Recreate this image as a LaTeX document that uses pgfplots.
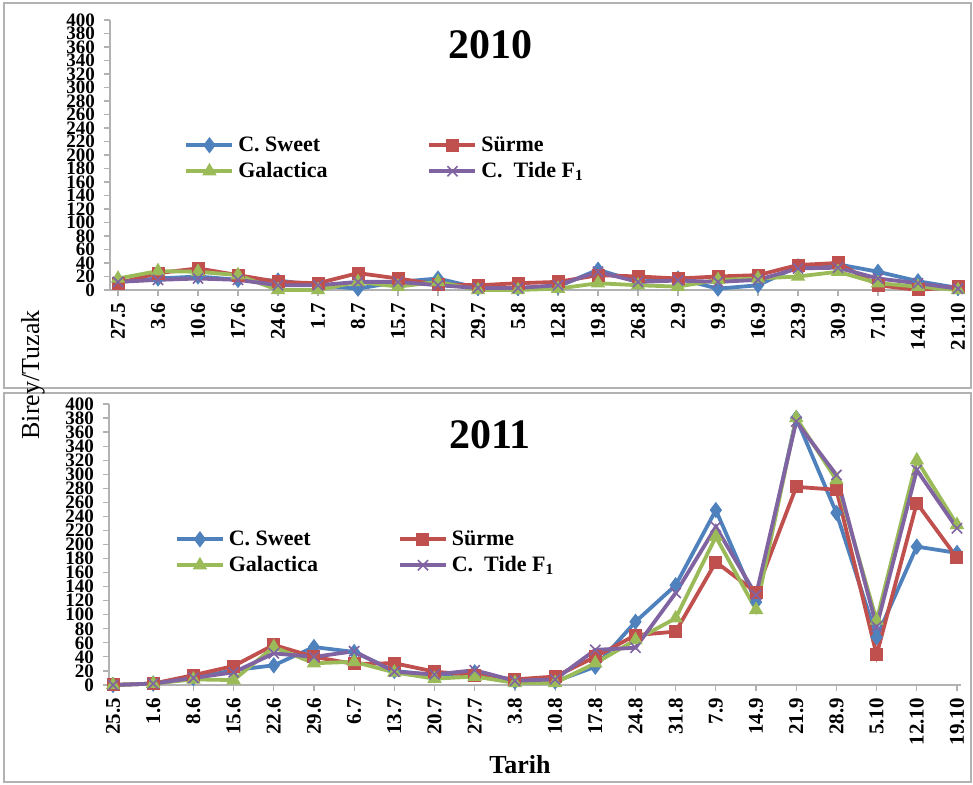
\documentclass[border=0pt]{standalone}
\usepackage{pgfplots}
\pgfplotsset{compat=1.18}
\usepackage{fontspec}
\setmainfont{Liberation Serif}
\definecolor{cblue}{HTML}{4F81BD}
\definecolor{cred}{HTML}{C0504D}
\definecolor{cgreen}{HTML}{9BBB59}
\definecolor{cpurple}{HTML}{8064A2}

\pgfplotstableread{
x sweet surme gal tide
0 12 10 17 12
1 17 25 28 15
2 20 32 27 17
3 15 22 22 15
4 14 12 0 7
5 7 10 0 7
6 2 25 12 12
7 12 17 5 12
8 17 8 12 7
9 3 7 0 3
10 3 10 0 3
11 5 12 2 7
12 30 22 10 27
13 12 20 7 12
14 17 17 5 14
15 2 20 15 12
16 7 22 17 15
17 35 37 20 32
18 38 40 27 33
19 27 7 10 17
20 13 0 5 10
21 3 5 0 2
}\dataA

\pgfplotstableread{
x sweet surme gal tide
0 0 0 0 0
1 2 2 2 2
2 10 14 8 10
3 21 27 7 18
4 28 57 54 45
5 54 40 31 40
6 47 30 33 48
7 20 31 18 19
8 14 19 9 15
9 18 14 12 21
10 5 8 3 6
11 5 12 3 8
12 26 40 31 50
13 90 71 64 53
14 142 76 95 131
15 249 175 211 225
16 118 132 107 128
17 380 282 380 375
18 245 278 292 299
19 68 43 92 83
20 197 259 320 306
21 188 181 228 223
}\dataB

\pgfplotsset{
  panel/.style={
    scale only axis,
    width=426pt,
    xmin=-0.2, xmax=21.1,
    ymin=0, ymax=400,
    ytick={0,20,...,400},
    xtick={0,...,21},
    axis x line=bottom, axis y line=left,
    axis line style={-, draw=gray!60, line width=0.8pt},
    tick align=outside,
    major tick length=3pt,
    tick style={draw=gray!60, line width=0.6pt},
    /pgf/number format/assume math mode=true,
    y tick label style={font=\bfseries\fontsize{9.5}{9.5}\selectfont, xshift=-1pt},
    x tick label style={rotate=90, anchor=east, font=\bfseries\fontsize{10.5}{10.5}\selectfont},
    clip=false,
    legend columns=2,
    legend cell align=left,
    legend style={draw=none, fill=none, font=\bfseries\fontsize{11}{12}\selectfont, anchor=north west},
    legend image code/.code={\draw[mark repeat=2,mark phase=2,##1] plot coordinates {(0pt,0pt) (11.5pt,0pt) (23pt,0pt)};},
    every axis plot/.append style={line width=1.9pt},
  },
  sw/.style={color=cblue, mark=diamond*, mark size=3.7pt, mark options={fill=cblue, line width=0.5pt}},
  su/.style={color=cred, mark=square*, mark size=3pt, mark options={fill=cred, line width=0.5pt}},
  ga/.style={color=cgreen, mark=triangle*, mark size=3.7pt, mark options={fill=cgreen, line width=0.5pt}},
  ti/.style={color=cpurple, mark=x, mark size=3.6pt, mark options={line width=0.8pt}},
}

\begin{document}
\begin{tikzpicture}
\useasboundingbox (0pt,0pt) rectangle (486.5pt,392.5pt);
\draw[gray!60, line width=1.2pt] (2pt,198.5pt) rectangle (485.5pt,391pt);
\draw[gray!60, line width=1.2pt] (2pt,1.5pt) rectangle (485.5pt,196pt);

\begin{axis}[panel, at={(55pt,247.5pt)}, anchor=south west, height=135pt,
  xticklabels={27.5,3.6,10.6,17.6,24.6,1.7,8.7,15.7,22.7,29.7,5.8,12.8,19.8,26.8,2.9,9.9,16.9,23.9,30.9,7.10,14.10,21.10},
  legend style={at={(0.08,0.60)}, /tikz/every even column/.append style={column sep=48pt}, /tikz/every row/.append style={row sep=10pt}},
]
\addplot[sw] table[x=x,y=sweet] {\dataA};
\addlegendentry{C. Sweet}
\addplot[su] table[x=x,y=surme] {\dataA};
\addlegendentry{Sürme}
\addplot[ga] table[x=x,y=gal] {\dataA};
\addlegendentry{Galactica}
\addplot[ti] table[x=x,y=tide] {\dataA};
\addlegendentry{C.~~Tide F\textsubscript{1}}
\end{axis}

\begin{axis}[panel, at={(54.5pt,50pt)}, anchor=south west, height=140.5pt, xmin=-0.1,
  xticklabels={25.5,1.6,8.6,15.6,22.6,29.6,6.7,13.7,20.7,27.7,3.8,10.8,17.8,24.8,31.8,7.9,14.9,21.9,28.9,5.10,12.10,19.10},
  legend style={at={(0.07,0.58)}, /tikz/every even column/.append style={column sep=38pt}},
]
\addplot[sw] table[x=x,y=sweet] {\dataB};
\addlegendentry{C. Sweet}
\addplot[su] table[x=x,y=surme] {\dataB};
\addlegendentry{Sürme}
\addplot[ga] table[x=x,y=gal] {\dataB};
\addlegendentry{Galactica}
\addplot[ti] table[x=x,y=tide] {\dataB};
\addlegendentry{C.~~Tide F\textsubscript{1}}
\end{axis}

\node[font=\bfseries\fontsize{21}{24}\selectfont] at (245pt,370pt) {2010};
\node[font=\bfseries\fontsize{21}{24}\selectfont] at (245pt,175pt) {2011};
\node[font=\fontsize{13}{15}\selectfont, rotate=90] at (16.5pt,205pt) {Birey/Tuzak};
\node[font=\bfseries\fontsize{13}{15}\selectfont] at (260pt,10pt) {Tarih};
\end{tikzpicture}
\end{document}
